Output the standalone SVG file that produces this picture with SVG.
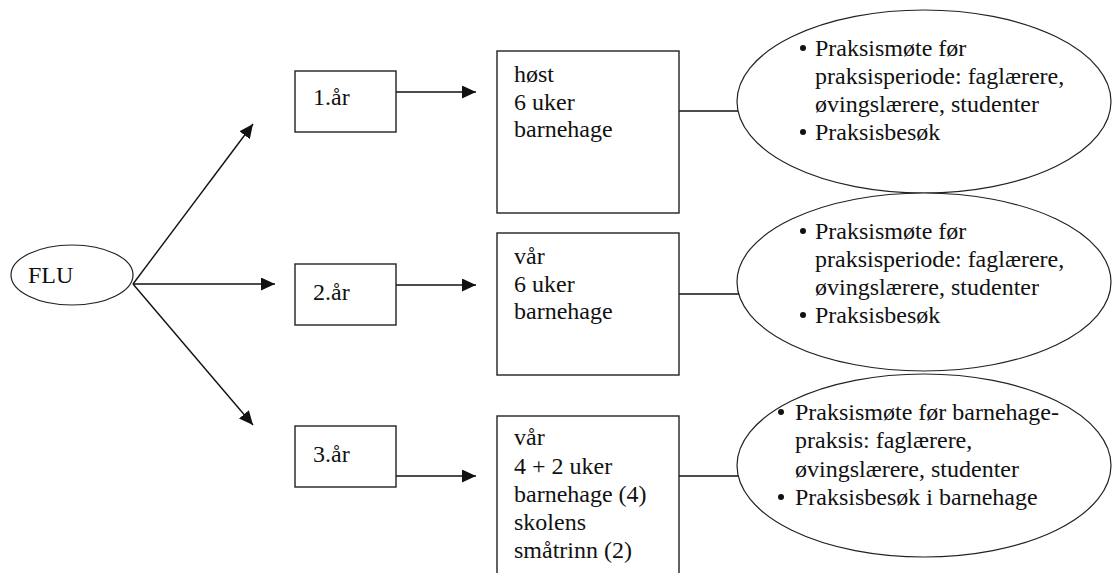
<svg xmlns="http://www.w3.org/2000/svg" width="1112" height="573" viewBox="0 0 1112 573">
<style>
text{font-family:'Liberation Serif','Times New Roman',serif;font-size:24px;fill:#111}
.box{fill:#fff;stroke:#222;stroke-width:1.4}
.ell{fill:#fff;stroke:#222;stroke-width:1.2}
.con{stroke:#111;stroke-width:1.4;fill:none}
.dot{fill:#111}
</style>
<defs>
<marker id="ah" markerUnits="userSpaceOnUse" markerWidth="15" markerHeight="13" refX="14" refY="6.5" orient="auto">
<path d="M0,0 L14,6.5 L0,13 Z" fill="#111"/>
</marker>
</defs>
<g id="connectors">
<line class="con" x1="133" y1="284" x2="253" y2="124" marker-end="url(#ah)"/>
<line class="con" x1="133" y1="284" x2="275" y2="284" marker-end="url(#ah)"/>
<line class="con" x1="133" y1="284" x2="253" y2="425" marker-end="url(#ah)"/>
<line class="con" x1="396" y1="92" x2="476" y2="92" marker-end="url(#ah)"/>
<line class="con" x1="396" y1="285" x2="476" y2="285" marker-end="url(#ah)"/>
<line class="con" x1="396" y1="476" x2="476" y2="476" marker-end="url(#ah)"/>
<line class="con" x1="679" y1="111" x2="740" y2="111"/>
<line class="con" x1="679" y1="294" x2="739" y2="294"/>
<line class="con" x1="679" y1="476" x2="740" y2="476"/>
</g>
<g id="flu">
<ellipse class="ell" cx="72" cy="275" rx="61" ry="30"/>
<text x="28" y="283">FLU</text>
</g>
<g id="year1">
<rect class="box" x="295" y="71" width="101" height="61"/>
<text x="313" y="105">1.år</text>
</g>
<g id="year2">
<rect class="box" x="295" y="264" width="101" height="61"/>
<text x="313" y="300">2.år</text>
</g>
<g id="year3">
<rect class="box" x="295" y="426" width="101" height="61"/>
<text x="313" y="462">3.år</text>
</g>
<g id="period1">
<rect class="box" x="497" y="51" width="182" height="162"/>
<text x="514" y="82">høst</text>
<text x="514" y="110">6 uker</text>
<text x="514" y="137">barnehage</text>
</g>
<g id="period2">
<rect class="box" x="497" y="233" width="182" height="142"/>
<text x="514" y="264">vår</text>
<text x="514" y="292">6 uker</text>
<text x="514" y="319">barnehage</text>
</g>
<g id="period3">
<rect class="box" x="497" y="416" width="182" height="170"/>
<text x="514" y="445">vår</text>
<text x="514" y="474">4 + 2 uker</text>
<text x="514" y="502">barnehage (4)</text>
<text x="514" y="530">skolens</text>
<text x="514" y="558">småtrinn (2)</text>
</g>
<g id="activity1">
<ellipse class="ell" cx="924" cy="101.5" rx="187" ry="91.5"/>
<circle class="dot" cx="803" cy="48" r="3"/>
<text x="815" y="56">Praksismøte før</text>
<text x="815" y="84">praksisperiode: faglærere,</text>
<text x="815" y="112">øvingslærere, studenter</text>
<circle class="dot" cx="803" cy="132" r="3"/>
<text x="815" y="140">Praksisbesøk</text>
</g>
<g id="activity2">
<ellipse class="ell" cx="924" cy="282" rx="187" ry="89"/>
<circle class="dot" cx="803" cy="231" r="3"/>
<text x="815" y="239">Praksismøte før</text>
<text x="815" y="267">praksisperiode: faglærere,</text>
<text x="815" y="295">øvingslærere, studenter</text>
<circle class="dot" cx="803" cy="315" r="3"/>
<text x="815" y="323">Praksisbesøk</text>
</g>
<g id="activity3">
<ellipse class="ell" cx="924" cy="465.5" rx="187" ry="91.5"/>
<circle class="dot" cx="781" cy="412" r="3"/>
<text x="795" y="420">Praksismøte før barnehage-</text>
<text x="795" y="448">praksis: faglærere,</text>
<text x="795" y="477">øvingslærere, studenter</text>
<circle class="dot" cx="781" cy="497" r="3"/>
<text x="795" y="505">Praksisbesøk i barnehage</text>
</g>
</svg>
